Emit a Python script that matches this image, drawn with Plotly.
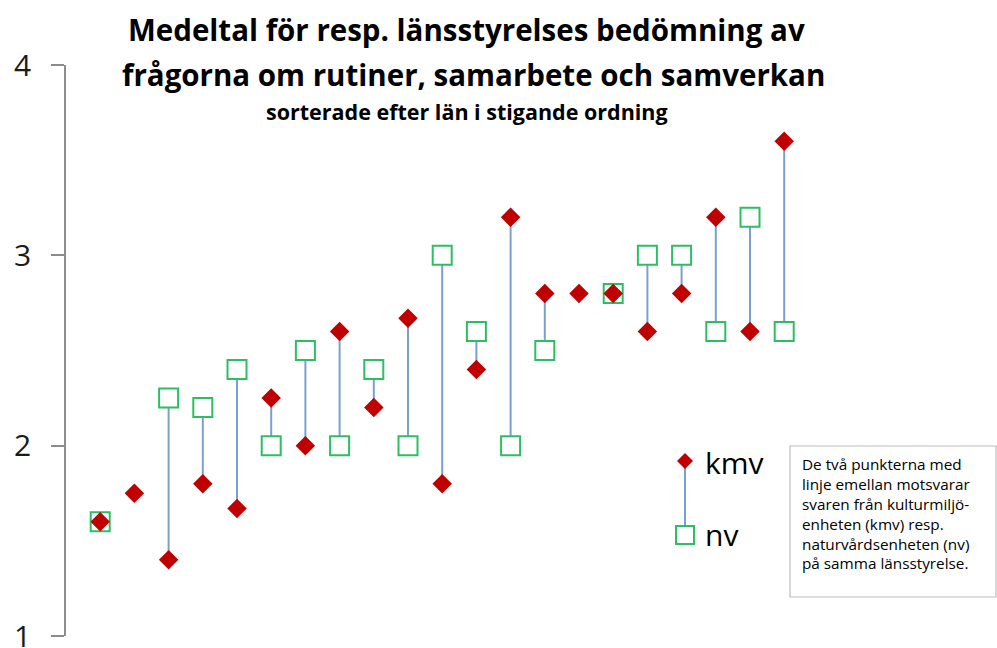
import plotly.graph_objects as go

# Data (21 län, sorted ascending)
lan_index = list(range(21))
kmv = [1.6, 1.75, 1.4, 1.8, 1.67, 2.25, 2.0, 2.6, 2.2, 2.67, 1.8, 2.4, 3.2, 2.8, 2.8, 2.8, 2.6, 2.8, 3.2, 2.6, 3.6]
nv = [1.6, None, 2.25, 2.2, 2.4, 2.0, 2.5, 2.0, 2.4, 2.0, 3.0, 2.6, 2.0, 2.5, None, 2.8, 3.0, 3.0, 2.6, 3.2, 2.6]
y_ticks = [1, 2, 3, 4]

RED = "#C00000"
GREEN = "#2DBE64"
LINE = "#7A9FD3"
FONT = "Open Sans"

# connecting lines
lx, ly = [], []
for i, a, b in zip(lan_index, kmv, nv):
    if a is None or b is None:
        continue
    lx += [i, i, None]
    ly += [a, b, None]

fig = go.Figure()
fig.add_trace(go.Scatter(x=lx, y=ly, mode="lines", line=dict(color=LINE, width=2),
                         hoverinfo="skip", showlegend=False))
fig.add_trace(go.Scatter(x=lan_index, y=nv, mode="markers", name="nv",
                         marker=dict(symbol="square", size=19, color="white",
                                     line=dict(color=GREEN, width=2)),
                         showlegend=False))
fig.add_trace(go.Scatter(x=lan_index, y=kmv, mode="markers", name="kmv",
                         marker=dict(symbol="diamond", size=15, color=RED, line=dict(width=0)),
                         showlegend=False))

W, H = 997, 648
L, R, T, B = 66, 10, 65, 12
pw, ph = W - L - R, H - T - B
step = 34.2

def px(x):
    return (x - L) / pw

def py(y):
    return (H - B - y) / ph

fig.update_layout(
    width=W, height=H,
    margin=dict(l=L, r=R, t=T, b=B, autoexpand=False),
    plot_bgcolor="white", paper_bgcolor="white",
    font=dict(family=FONT, color="#1a1a1a"),
    xaxis=dict(range=[-1, -1 + pw / step], visible=False, showgrid=False, zeroline=False,
               automargin=False),
    yaxis=dict(range=[1, 4], tickvals=y_ticks, ticks="outside", ticklen=13, tickwidth=1.5,
               tickcolor="#8c8c8c", showline=True, linecolor="#8c8c8c", linewidth=1.5,
               showgrid=False, zeroline=False, tickfont=dict(size=30, family=FONT, color="#1a1a1a"),
               ticklabelstandoff=14, automargin=False, ticklabeloverflow="allow"),
    showlegend=False,
)

ann = []
ann.append(dict(text="<b>Medeltal för resp. länsstyrelses bedömning av</b>", x=px(466), y=py(30),
                font=dict(size=29.5, family=FONT, color="black")))
ann.append(dict(text="<b>frågorna om rutiner, samarbete och samverkan</b>", x=px(473), y=py(74),
                font=dict(size=29.5, family=FONT, color="black")))
ann.append(dict(text="<b>sorterade efter län i stigande ordning</b>", x=px(467), y=py(111),
                font=dict(size=21.5, family=FONT, color="black")))
ann.append(dict(text="kmv", x=px(703), y=py(462), xanchor="left",
                font=dict(size=30, family=FONT, color="black")))
ann.append(dict(text="nv", x=px(703), y=py(534), xanchor="left",
                font=dict(size=30, family=FONT, color="black")))
note = ("De två punkterna med<br>linje emellan motsvarar<br>svaren från kulturmiljö-<br>"
        "enheten (kmv) resp.<br>naturvårdsenheten (nv)<br>på samma länsstyrelse.")
ann.append(dict(text=note, x=px(800), y=py(452), xanchor="left", yanchor="top", align="left",
                font=dict(size=15.3, family=FONT, color="black")))
for a in ann:
    a.setdefault("xanchor", "center")
    a.setdefault("yanchor", "middle")
    a.update(xref="paper", yref="paper", showarrow=False)
fig.update_layout(annotations=ann)

shapes = []
# note box
shapes.append(dict(type="rect", xref="paper", yref="paper", x0=px(790), x1=px(996), y0=py(446), y1=py(597),
                   line=dict(color="#bdbdbd", width=1.2), fillcolor="rgba(0,0,0,0)"))
# legend key
shapes.append(dict(type="line", xref="paper", yref="paper", x0=px(685), x1=px(685), y0=py(461), y1=py(535),
                   line=dict(color=LINE, width=2)))
shapes.append(dict(type="rect", xref="paper", yref="paper", x0=px(676), x1=px(694), y0=py(526), y1=py(544),
                   line=dict(color=GREEN, width=2), fillcolor="white"))
cx, cy, r = 685, 461, 8
shapes.append(dict(type="path", xref="paper", yref="paper",
                   path=f"M {px(cx)},{py(cy-r)} L {px(cx+r)},{py(cy)} L {px(cx)},{py(cy+r)} L {px(cx-r)},{py(cy)} Z",
                   fillcolor=RED, line=dict(width=0)))
fig.update_layout(shapes=shapes)

fig.write_html("out.html", config={"displayModeBar": False},
               post_script="document.body.style.margin='0';document.body.style.overflow='hidden';")
